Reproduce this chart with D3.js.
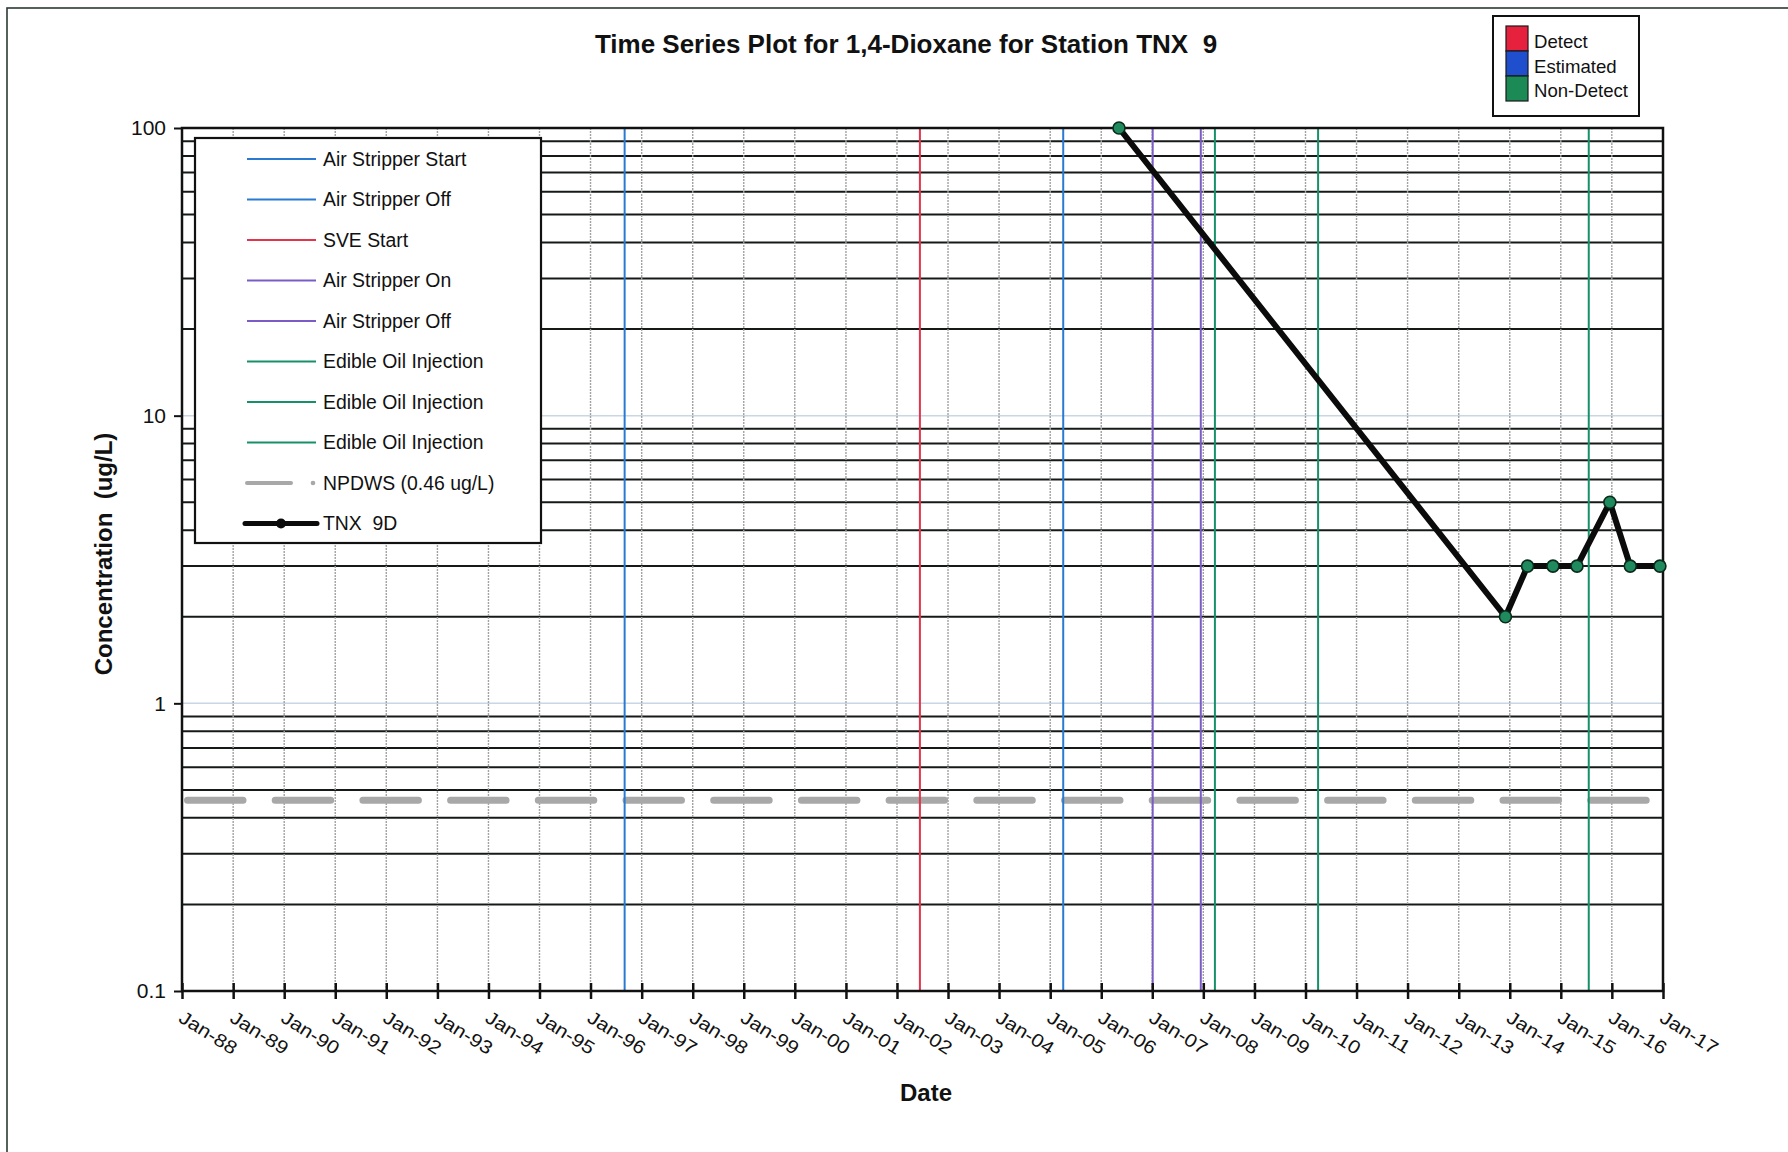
<!DOCTYPE html>
<html>
<head>
<meta charset="utf-8">
<script src="https://cdn.jsdelivr.net/npm/d3@7"></script>
<style>
  html, body { margin: 0; padding: 0; background: #fff; }
  svg { display: block; }
  text { font-family: "Liberation Sans", Arial, Helvetica, sans-serif; fill: #111; }
</style>
</head>
<body>
<svg id="chart" width="1788" height="1152"></svg>
<script>
// ---- Data ---------------------------------------------------------------
// TNX 9D sampling results, 1,4-Dioxane (ug/L)
const sampleDates = ["2006-05-08", "2013-12-01", "2014-05-08", "2014-11-06",
                     "2015-04-27", "2015-12-18", "2016-05-12", "2016-12-10"];
const sampleValues = [100, 2, 3, 3, 3, 5, 3, 3];

// Remediation events drawn as vertical reference lines
const eventNames = ["Air Stripper Start", "Air Stripper Off", "SVE Start",
                    "Air Stripper On", "Air Stripper Off", "Edible Oil Injection",
                    "Edible Oil Injection", "Edible Oil Injection"];
const eventDates = ["1996-09-01", "2005-04-04", "2002-06-14",
                    "2007-01-04", "2007-12-14", "2008-03-24",
                    "2010-04-01", "2015-07-20"];
const eventKinds = ["stripperA", "stripperA", "sve",
                    "stripperB", "stripperB", "oil", "oil", "oil"];

// Drinking water standard
const standardLabel = "NPDWS (0.46 ug/L)";
const standardValue = 0.46;
const seriesLabel = "TNX  9D";

// Axis ticks
const yTickValues = [0.1, 1, 10, 100];
const yTickLabels = ["0.1", "1", "10", "100"];
const xStart = "1988-01-01";
const xEnd = "2017-01-01";

// Qualifier legend
const qualifierNames = ["Detect", "Estimated", "Non-Detect"];

// ---- Styles -------------------------------------------------------------
const eventColor = {
  stripperA: "#2a7ad2",
  sve: "#e2344c",
  stripperB: "#7b5cc6",
  oil: "#17906a"
};
const qualifierColor = ["#e5213d", "#1f4fcc", "#1c8a55"];

// ---- Layout -------------------------------------------------------------
const svg = d3.select("#chart");
const parse = d3.timeParse("%Y-%m-%d");
const plotL = 182, plotR = 1663, plotT = 128, plotB = 991;

const x = d3.scaleTime().domain([parse(xStart), parse(xEnd)]).range([plotL, plotR]);
const y = d3.scaleLog().domain([0.1, 100]).range([plotB, plotT]);

// Page frame
svg.append("rect")
  .attr("x", 7).attr("y", 8).attr("width", 1900).attr("height", 1300)
  .attr("fill", "none").attr("stroke", "#2d3a33").attr("stroke-width", 1.6);

// Title
svg.append("text")
  .attr("x", 906).attr("y", 53)
  .attr("text-anchor", "middle")
  .style("white-space", "pre")
  .attr("font-size", 26).attr("font-weight", "bold")
  .text("Time Series Plot for 1,4-Dioxane for Station TNX  9");

const plot = svg.append("g");

// Decade grid lines (faint) and minor grid lines (dark)
const allTicks = y.ticks();
const isMajor = v => yTickValues.some(m => Math.abs(m - v) / m < 1e-6);
plot.selectAll("line.hmajor")
  .data(allTicks.filter(isMajor))
  .join("line")
  .attr("class", "hmajor")
  .attr("x1", plotL).attr("x2", plotR)
  .attr("y1", d => y(d)).attr("y2", d => y(d))
  .attr("stroke", "#c9d6e3").attr("stroke-width", 1.5);
plot.selectAll("line.hminor")
  .data(allTicks.filter(v => !isMajor(v)))
  .join("line")
  .attr("class", "hminor")
  .attr("x1", plotL).attr("x2", plotR)
  .attr("y1", d => y(d)).attr("y2", d => y(d))
  .attr("stroke", "#151a17").attr("stroke-width", 2);

// Yearly vertical grid lines
const years = d3.timeYear.range(parse(xStart), d3.timeDay.offset(parse(xEnd), 1));
plot.selectAll("line.vgrid")
  .data(years.slice(1, -1))
  .join("line")
  .attr("class", "vgrid")
  .attr("x1", d => x(d)).attr("x2", d => x(d))
  .attr("y1", plotT).attr("y2", plotB)
  .attr("stroke", "#a2a2a2").attr("stroke-width", 1.4)
  .attr("stroke-dasharray", "2,1");

// Drinking water standard
plot.append("line")
  .attr("x1", plotL + 5.5).attr("x2", plotR)
  .attr("y1", y(standardValue)).attr("y2", y(standardValue))
  .attr("stroke", "#a8a8a8").attr("stroke-width", 7)
  .attr("stroke-linecap", "round")
  .attr("stroke-dasharray", "55.5,32.2");

// Event lines
const events = eventNames.map((n, i) => ({ name: n, date: parse(eventDates[i]), kind: eventKinds[i] }));
plot.selectAll("line.event")
  .data(events)
  .join("line")
  .attr("class", "event")
  .attr("x1", d => x(d.date)).attr("x2", d => x(d.date))
  .attr("y1", plotT).attr("y2", plotB)
  .attr("stroke", d => eventColor[d.kind]).attr("stroke-width", 2);

// Plot border
plot.append("rect")
  .attr("x", plotL).attr("y", plotT).attr("width", plotR - plotL).attr("height", plotB - plotT)
  .attr("fill", "none").attr("stroke", "#111").attr("stroke-width", 2.5);

// Axes
const xAxis = d3.axisBottom(x)
  .tickValues(years)
  .tickSize(0)
  .tickFormat(d3.timeFormat("%b-%y"));
const gx = svg.append("g").attr("transform", `translate(0,${plotB})`).call(xAxis);
gx.select(".domain").remove();
gx.selectAll(".tick line").remove();
gx.selectAll(".tick").append("line")
  .attr("y1", -8).attr("y2", 8)
  .attr("stroke", "#111").attr("stroke-width", 2.5);
gx.selectAll(".tick text")
  .attr("font-size", 18.5)
  .attr("fill", "#111")
  .attr("text-anchor", "start")
  .attr("dy", 0).attr("y", 0)
  .attr("transform", "translate(-5,30) rotate(32) scale(1.14,1)");

const yAxis = d3.axisLeft(y)
  .tickValues(yTickValues)
  .tickSize(8)
  .tickPadding(8)
  .tickFormat((d, i) => yTickLabels[i]);
const gy = svg.append("g").attr("transform", `translate(${plotL},0)`).call(yAxis);
gy.select(".domain").remove();
gy.selectAll(".tick line").attr("stroke", "#111").attr("stroke-width", 2);
gy.selectAll(".tick text").attr("font-size", 21).attr("fill", "#111");

// Axis titles
svg.append("text")
  .attr("transform", "translate(103,554) rotate(-90)")
  .attr("text-anchor", "middle").attr("dy", "0.36em")
  .style("white-space", "pre")
  .attr("font-size", 24).attr("font-weight", "bold")
  .text("Concentration  (ug/L)");
svg.append("text")
  .attr("x", 926).attr("y", 1101)
  .attr("text-anchor", "middle")
  .attr("font-size", 24).attr("font-weight", "bold")
  .text("Date");

// Series line and markers
const samples = sampleDates.map((d, i) => ({ date: parse(d), value: sampleValues[i] }));
const line = d3.line().x(d => x(d.date)).y(d => y(d.value));
plot.append("path")
  .datum(samples)
  .attr("d", line)
  .attr("fill", "none").attr("stroke", "#0b0b0b")
  .attr("stroke-width", 6).attr("stroke-linejoin", "round");
plot.selectAll("circle.pt")
  .data(samples)
  .join("circle")
  .attr("class", "pt")
  .attr("cx", d => x(d.date)).attr("cy", d => y(d.value))
  .attr("r", 6)
  .attr("fill", "#1f8a5e").attr("stroke", "#0c2a1c").attr("stroke-width", 1.6);

// ---- Series legend ------------------------------------------------------
const lg = svg.append("g");
lg.append("rect")
  .attr("x", 195).attr("y", 138).attr("width", 346).attr("height", 405)
  .attr("fill", "#fff").attr("stroke", "#111").attr("stroke-width", 2.2);
const rowY = i => 159 + i * 40.5;
const legendRows = events.map(e => ({ name: e.name, kind: e.kind }))
  .concat([{ name: standardLabel, kind: "standard" }, { name: seriesLabel, kind: "series" }]);
const row = lg.selectAll("g.row").data(legendRows).join("g")
  .attr("class", "row")
  .attr("transform", (d, i) => `translate(0,${rowY(i)})`);
row.filter(d => eventColor[d.kind]).append("line")
  .attr("x1", 247).attr("x2", 316).attr("y1", 0).attr("y2", 0)
  .attr("stroke", d => eventColor[d.kind]).attr("stroke-width", 2);
const stdRow = row.filter(d => d.kind === "standard");
stdRow.append("line")
  .attr("x1", 247).attr("x2", 291).attr("y1", 0).attr("y2", 0)
  .attr("stroke", "#a8a8a8").attr("stroke-width", 4).attr("stroke-linecap", "round");
stdRow.append("circle").attr("cx", 313).attr("cy", 0).attr("r", 2.3).attr("fill", "#a8a8a8");
const serRow = row.filter(d => d.kind === "series");
serRow.append("line")
  .attr("x1", 245).attr("x2", 317).attr("y1", 0).attr("y2", 0)
  .attr("stroke", "#0b0b0b").attr("stroke-width", 5).attr("stroke-linecap", "round");
serRow.append("circle").attr("cx", 281).attr("cy", 0).attr("r", 5).attr("fill", "#0b0b0b");
row.append("text")
  .attr("x", 323).attr("y", 0).attr("dy", "0.36em")
  .style("white-space", "pre")
  .attr("font-size", 19.4)
  .text(d => d.name);

// ---- Qualifier legend ---------------------------------------------------
const qg = svg.append("g");
qg.append("rect")
  .attr("x", 1493).attr("y", 16).attr("width", 146).attr("height", 100)
  .attr("fill", "#fff").attr("stroke", "#111").attr("stroke-width", 2);
qg.selectAll("rect.sw").data(qualifierNames).join("rect")
  .attr("class", "sw")
  .attr("x", 1506).attr("y", (d, i) => 26 + i * 25)
  .attr("width", 22).attr("height", 25)
  .attr("fill", (d, i) => qualifierColor[i])
  .attr("stroke", "#1a1a1a").attr("stroke-width", 1.2);
qg.selectAll("text").data(qualifierNames).join("text")
  .attr("x", 1534).attr("y", (d, i) => 48 + i * 24.5)
  .attr("font-size", 18.6)
  .text(d => d);
</script>
</body>
</html>
